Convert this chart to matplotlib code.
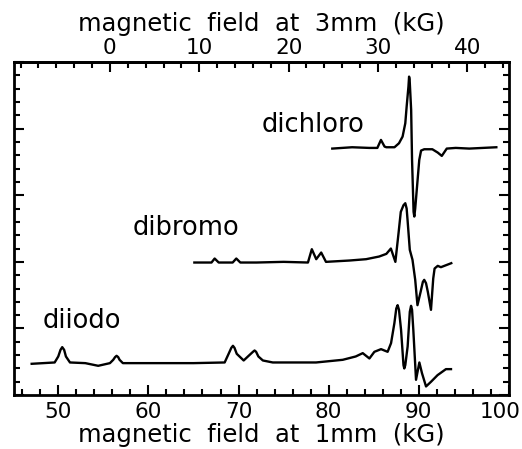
import numpy as np
import matplotlib
matplotlib.use('Agg')
import matplotlib.pyplot as plt
from matplotlib.ticker import MultipleLocator, NullFormatter, FixedLocator
from matplotlib.transforms import ScaledTranslation

# widma: pole (kG, 1mm) i przesuniete natezenie
chloro_x = [80.4, 82.6, 84.5, 85.4, 85.6, 85.8, 86.0, 86.2, 86.4, 87.3, 87.8, 88.2, 88.5,
            88.65, 88.85, 88.92, 88.98, 89.15, 89.25, 89.42, 89.5, 89.6, 90.05, 90.25,
            90.6, 91.5, 92.1, 92.55, 93.1, 94.1, 95.6, 98.6]
chloro_y = [3.70, 3.72, 3.71, 3.71, 3.77, 3.83, 3.78, 3.73, 3.72, 3.72, 3.78, 3.88, 4.08,
            4.33, 4.63, 4.78, 4.74, 4.28, 3.53, 2.75, 2.68, 2.80, 3.53, 3.67,
            3.69, 3.69, 3.64, 3.59, 3.70, 3.71, 3.70, 3.72]

bromo_x = [65.1, 66.6, 67.0, 67.35, 67.8, 69.35, 69.75, 70.2, 72.0, 75.0, 77.7, 78.13,
           78.62, 79.17, 79.7, 82.3, 84.15, 85.6, 86.4, 86.9, 87.4, 87.75, 88.0, 88.3,
           88.5, 88.65, 88.75, 89.0, 89.3, 89.6, 89.85, 90.2, 90.45, 90.6, 90.8, 91.0,
           91.35, 91.6, 91.75, 92.1, 92.45, 93.6]
bromo_y = [1.99, 1.99, 1.99, 2.05, 1.99, 1.99, 2.05, 1.99, 1.99, 2.00, 1.99, 2.19,
           2.04, 2.14, 2.00, 2.02, 2.04, 2.08, 2.12, 2.20, 2.00, 2.43, 2.75, 2.85,
           2.88, 2.80, 2.63, 2.18, 2.03, 1.73, 1.35, 1.55, 1.70, 1.73, 1.68, 1.55,
           1.28, 1.75, 1.90, 1.94, 1.92, 1.98]

iodo_x = [47.05, 49.6, 50.0, 50.25, 50.44, 50.65, 50.85, 51.3, 53.0, 54.43, 55.73, 56.1,
          56.3, 56.47, 56.65, 56.8, 57.17, 60.0, 65.0, 68.46, 68.9, 69.2, 69.38, 69.55,
          69.8, 70.57, 71.2, 71.6, 71.78, 71.95, 72.2, 72.7, 73.8, 78.6, 81.56, 83.0,
          83.78, 84.52, 85.07, 85.81, 86.54, 86.92, 87.29, 87.5, 87.65, 87.8, 88.03,
          88.3, 88.39, 88.5, 88.76, 89.0, 89.14, 89.25, 89.39, 89.69, 90.06, 90.35,
          90.8, 91.35, 92.08, 93.01, 93.57]
iodo_y = [0.47, 0.49, 0.58, 0.68, 0.72, 0.68, 0.58, 0.49, 0.48, 0.44, 0.48, 0.53,
          0.57, 0.59, 0.57, 0.53, 0.48, 0.48, 0.48, 0.49, 0.62, 0.71, 0.74, 0.71,
          0.62, 0.52, 0.60, 0.65, 0.67, 0.65, 0.58, 0.52, 0.49, 0.49, 0.53, 0.58,
          0.63, 0.55, 0.65, 0.69, 0.65, 0.78, 1.08, 1.30, 1.35, 1.28, 0.98,
          0.45, 0.40, 0.45, 0.73, 1.25, 1.34, 1.28, 0.98, 0.23, 0.49, 0.33,
          0.13, 0.20, 0.30, 0.39, 0.39]

nazwy = ['dichloro', 'dibromo', 'diiodo']
pozycje_nazw = [(72.56, 3.95), (58.28, 2.40), (48.3, 1.00)]

fig = plt.figure(figsize=(5.22, 4.49), dpi=100)
ax = fig.add_axes([0.027, 0.120, 0.948, 0.742])

for xs, ys in [(chloro_x, chloro_y), (bromo_x, bromo_y), (iodo_x, iodo_y)]:
    ax.plot(xs, ys, 'k-', lw=1.7, solid_joinstyle='round')

for n, (x, y) in zip(nazwy, pozycje_nazw):
    ax.text(x, y, n, fontsize=18.5, ha='left', va='baseline')

ax.set_xlim(45.1, 100)
ax.set_ylim(0, 5)

ax.xaxis.set_major_locator(MultipleLocator(10))
ax.xaxis.set_minor_locator(MultipleLocator(2))
ax.yaxis.set_major_locator(MultipleLocator(1))
ax.yaxis.set_minor_locator(MultipleLocator(0.2))
ax.yaxis.set_major_formatter(NullFormatter())
ax.tick_params(which='both', direction='in', left=True, right=True, top=False,
               width=1.5, labelsize=15.5, pad=5)
ax.tick_params(which='major', length=7)
ax.tick_params(which='minor', length=4)
for s in ax.spines.values():
    s.set_linewidth(2)

ax.set_xlabel('magnetic  field  at  1mm  (kG)', fontsize=17.5, labelpad=1)

# gorna os - pole przy 3mm
top = ax.secondary_xaxis('top', functions=(lambda b: (b - 55.73) * 1.009,
                                            lambda t: t / 1.009 + 55.73))
top.xaxis.set_major_locator(FixedLocator([0, 10, 20, 30, 40]))
top.xaxis.set_minor_locator(MultipleLocator(2))
top.tick_params(which='both', direction='in', width=1.5, labelsize=15.5, pad=3)
top.tick_params(which='major', length=7)
top.tick_params(which='minor', length=4)
top.spines['top'].set_linewidth(2)
top.set_xlabel('magnetic  field  at  3mm  (kG)', fontsize=17.5, labelpad=5)

# etykieta 100 przesunieta w lewo jak w oryginale
fig.canvas.draw()
for lab in ax.get_xticklabels():
    if lab.get_text() == '100':
        lab.set_transform(lab.get_transform() + ScaledTranslation(-0.09, 0, fig.dpi_scale_trans))

fig.savefig('out.png', dpi=100)
